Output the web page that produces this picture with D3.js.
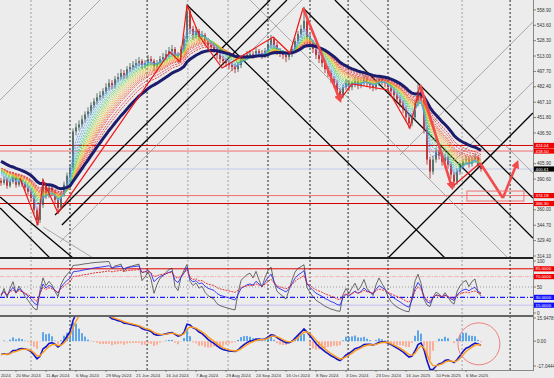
<!DOCTYPE html>
<html>
<head>
<meta charset="utf-8">
<script src="https://cdn.jsdelivr.net/npm/d3@7"></script>
<style>
body { margin: 0; background: #ececec; overflow: hidden; }
svg text { font-family: "Liberation Sans", Arial, sans-serif; }
</style>
</head>
<body>
<script>
var width = 554
var height = 378
var plotW = 533

// price bars (open of each bar = previous close)
var firstOpen = 389
var closes = [
  387,390,384,388,392,385,389,386,382,378,
  372,360,350,365,385,375,382,378,370,362,
  375,385,394,402,438,442,445,450,455,458,
  464,468,472,474,478,482,486,484,490,492,
  496,494,500,502,504,506,508,504,506,510,
  508,502,506,510,512,515,518,520,514,512,
  520,530,558,540,534,538,532,534,528,524,
  522,520,514,510,508,506,504,502,500,504,
  510,512,514,515,514,518,516,514,518,524,
  530,524,518,516,514,512,515,520,528,535,
  540,548,532,526,520,514,510,506,500,496,
  490,486,478,474,482,486,482,485,488,484,
  486,490,486,484,482,486,490,488,486,482,
  478,474,470,466,460,452,446,452,466,478,
  470,440,410,398,410,418,414,408,412,405,
  395,388,398,404,408,410,406,410,412,404,
  400.61]
var highs = [
  392,393,392,391,395,394,392,391,388,384,
  380,374,362,367,391,387,385,384,380,372,
  377,388,397,405,441,446,449,454,458,462,
  467,471,476,478,481,486,490,489,493,496,
  500,499,503,506,508,510,512,510,509,514,
  513,510,509,513,516,519,522,524,522,517,
  523,534,565,560,543,542,540,538,536,531,
  527,525,522,517,513,511,509,507,505,507,
  513,515,518,519,518,521,520,519,521,527,
  534,532,527,521,519,517,518,523,531,538,
  544,562,550,535,529,523,517,513,509,503,
  499,493,489,481,485,490,489,488,492,491,
  490,494,493,489,487,489,494,493,491,489,
  485,481,477,473,469,463,455,456,469,485,
  481,472,443,413,414,422,420,417,416,414,
  407,398,401,407,411,414,413,413,416,414,
  407]
var lows = [
  384,385,381,382,386,382,383,383,379,375,
  368,356,344,347,362,371,372,374,366,356,
  360,373,383,391,400,434,439,442,447,452,
  455,461,465,469,471,475,479,480,481,487,
  489,490,491,497,499,501,503,500,501,503,
  504,498,499,503,507,509,512,514,510,506,
  509,517,527,535,529,530,528,529,524,520,
  518,516,510,506,504,502,500,498,496,497,
  501,507,509,511,510,511,512,510,511,515,
  521,520,514,512,510,507,509,512,517,525,
  532,537,528,522,516,510,506,502,496,492,
  486,482,474,469,471,479,478,479,482,480,
  481,483,482,480,478,479,483,484,482,478,
  474,470,466,462,456,448,441,443,449,463,
  466,436,405,391,395,407,410,404,405,401,
  391,382,385,395,401,405,402,403,407,401,
  398]

// indicator settings
var maPeriods = [3,4,5,6,7,8,9,10,11,12,13,14,15,16,18,20]
var maColors = ["#6a8df0","#5aa0ee","#4cb6e0","#44c4b0","#3fca6a","#54d33c","#94d62e","#c8d028",
                "#e6c229","#f2a82a","#f48d2c","#f4722f","#f05a34","#ea4337","#e3303a","#dc2020"]
var maSeed = 403
var trendPeriod = 24, trendSeed = 410
var rsiPeriods = [4, 8, 14]
var rsiColors = ["#303030", "#2b2bf0", "#e82020"]
var rsiSeedGain = 1.5, rsiSeedLoss = 2.5
var macdFast = 5, macdSlow = 12, macdSig = 3, histScale = 2.5
var macdSeedFast = 400, macdSeedSlow = 408

// axes
var priceTicks = [314.10,329.40,344.70,360.00,375.30,390.60,405.90,421.20,436.50,451.80,
                  467.10,482.40,497.70,513.00,528.30,543.60,558.90]
var levelPrices = [424.04, 418.50, 374.18, 366.30]
var levelColors = ["#d40000", "#f07070", "#f07070", "#d40000"]
var lastPrice = 400.61
var rsiLevels = [85, 70, 50, 30, 15]
var rsiLevelLabels = ["85.0000", "70.0000", "50", "30.0000", "15.0000"]
var macdTicks = [15.9478, 0, -17.0444]
var macdTickLabels = ["15.9478", "0.00", "-17.0444"]
var dateBars = [-5,5,15,25,35,45,55,65,75,85,95,105,115,125,135,145,155]
var dateLabels = ["28 Feb 2024","20 Mar 2024","11 Apr 2024","6 May 2024","29 May 2024","21 Jun 2024",
                  "16 Jul 2024","7 Aug 2024","29 Aug 2024","24 Sep 2024","16 Oct 2024","8 Nov 2024",
                  "3 Dec 2024","23 Dec 2024","16 Jan 2025","10 Feb 2025","6 Mar 2025"]

// drawn objects
var sepBars = [10, 23, 48.7, 62.3, 75.7, 89, 103, 115.7, 129, 153.7, 169.7]
var sepDark = [0, 1, 1, 0, 0, 1, 1, 1, 1, 0, 1]
var zigBars = [6.3,12.3,14,19,56.3,59.7,62,66.3,73.7,90.7,96.3,100.7]
var zigPrices = [391.7,344.9,389.7,356.9,517.0,507.1,563.8,531.9,501.1,531.9,516.0,560.8]
var zig2Bars = [113,117,129,136.3,139.7]
var zig2Prices = [469.3,485.2,479.2,441.4,484.2]
var zig3Bars = [150.3,159.7]
var zig3Prices = [382.7,406.6]
var arrowFrom = [[100.7,560.8],[139.7,484.2],[159.7,406.6],[167.3,371.8]]
var arrowTo = [[113,469.3],[150.3,382.7],[167.3,371.8],[172,406.6]]
var lineStart = [[62,563.8],[100.7,560.8],[-0.3,372.8],[-0.3,361.8],[111.3,568.75],[18,354.9],[20.3,344.9],[129,312.1],
                 [-0.3,469.3],[19.7,328],[133,414.6],[151.3,409.6],[83,568.75],[119.7,568.75],[14,343]]
var lineEnd = [[148,312.1],[177.3,332.0],[24,312.1],[16.3,312.1],[177.3,371.8],[89.7,568.75],[95.3,568.75],[177.3,456.3],
               [33,568.75],[100.3,568.75],[177.3,546.9],[177.3,487.2],[169,312.1],[177.3,396.6],[30.7,312.1]]
var lineDark = [1,1,1,1,1,1,1,1,0,0,0,0,0,0,0]
var boxBars = [155.3, 174.3]
var boxPrices = [378.7, 368.8]
var circleBar = 159.3, circleValue = -1.8

// ---- computations
function ema(vals, n, seed) {
  var a = 2 / (n + 1), e = seed
  return vals.map(function(v) { e = e + a * (v - e); return e })
}
function rsi(vals, n) {
  var g = rsiSeedGain, l = rsiSeedLoss
  return vals.map(function(v, i) {
    var d = v - (i ? vals[i - 1] : firstOpen)
    g = (g * (n - 1) + Math.max(d, 0)) / n
    l = (l * (n - 1) + Math.max(-d, 0)) / n
    return 100 - 100 / (1 + g / l)
  })
}
var fastE = ema(closes, macdFast, macdSeedFast)
var slowE = ema(closes, macdSlow, macdSeedSlow)
var macd = fastE.map(function(v, i) { return v - slowE[i] })
var signal = ema(macd, macdSig, macd[0])
var hist = macd.map(function(v, i) { return histScale * (v - signal[i]) })

// ---- scales
var x = d3.scaleLinear().domain([0, 177.33]).range([1, plotW])
var yP = d3.scaleLinear().domain([312.1, 568.75]).range([258, 0])
var yR = d3.scaleLinear().domain([0, 100]).range([313, 261])
var yM = d3.scaleLinear().domain([-17.0444, 15.9478]).range([366, 318])

var svg = d3.select("body").append("svg")
    .attr("width", width)
    .attr("height", height)

svg.append("rect").attr("width", width).attr("height", height).attr("fill", "#ececec")

var defs = svg.append("defs")
function clip(id, y0, h) {
  defs.append("clipPath").attr("id", id).append("rect")
      .attr("x", 0).attr("y", y0).attr("width", plotW).attr("height", h)
}
clip("cMain", 0, 257)
clip("cRsi", 259, 56)
clip("cMacd", 317, 53)
defs.append("marker").attr("id", "ah").attr("viewBox", "0 0 10 10")
    .attr("refX", 6).attr("refY", 5).attr("markerWidth", 3.2).attr("markerHeight", 3.2)
    .attr("orient", "auto")
  .append("path").attr("d", "M0,0L10,5L0,10z").attr("fill", "#f24a4a")

// vertical separators across all panels
svg.selectAll(".sep").data(sepBars).enter().append("line")
    .attr("x1", function(d) { return x(d) }).attr("x2", function(d) { return x(d) })
    .attr("y1", 0).attr("y2", 370)
    .attr("stroke", function(d, i) { return sepDark[i] ? "#111" : "#999" })
    .attr("stroke-width", 0.9)
    .attr("stroke-dasharray", "2,2")

var main = svg.append("g").attr("clip-path", "url(#cMain)")

// horizontal levels
main.selectAll(".lvl").data(levelPrices).enter().append("line")
    .attr("x1", 0).attr("x2", plotW)
    .attr("y1", function(d) { return yP(d) }).attr("y2", function(d) { return yP(d) })
    .attr("stroke", function(d, i) { return levelColors[i] }).attr("stroke-width", 1)
main.append("line").attr("x1", 0).attr("x2", plotW)
    .attr("y1", yP(lastPrice)).attr("y2", yP(lastPrice))
    .attr("stroke", "#c4cbef").attr("stroke-width", 1)

// trend lines
main.selectAll(".gl").data(lineStart).enter().append("line")
    .attr("x1", function(d) { return x(d[0]) }).attr("y1", function(d) { return yP(d[1]) })
    .attr("x2", function(d, i) { return x(lineEnd[i][0]) }).attr("y2", function(d, i) { return yP(lineEnd[i][1]) })
    .attr("stroke", function(d, i) { return lineDark[i] ? "#000" : "#8c8c8c" })
    .attr("stroke-width", function(d, i) { return lineDark[i] ? 1.3 : 0.7 })

// candles
var bars = main.selectAll(".bar").data(closes).enter().append("g")
function isUp(i) { return closes[i] >= (i ? closes[i - 1] : firstOpen) }
function barColor(d, i) { return isUp(i) ? "#3a5a52" : "#b01818" }
bars.append("line")
    .attr("x1", function(d, i) { return x(i) }).attr("x2", function(d, i) { return x(i) })
    .attr("y1", function(d, i) { return yP(highs[i]) }).attr("y2", function(d, i) { return yP(lows[i]) })
    .attr("stroke", barColor).attr("stroke-width", 0.8)
bars.append("rect")
    .attr("x", function(d, i) { return x(i) - 0.7 }).attr("width", 1.4)
    .attr("y", function(d, i) { var o = i ? closes[i - 1] : firstOpen; return yP(Math.max(o, d)) })
    .attr("height", function(d, i) { var o = i ? closes[i - 1] : firstOpen; return Math.max(0.8, Math.abs(yP(o) - yP(d))) })
    .attr("fill", barColor)

// rainbow of moving averages
var priceLine = d3.line().x(function(d, i) { return x(i) }).y(function(d) { return yP(d) })
maPeriods.slice().reverse().forEach(function(p, k) {
  var idx = maPeriods.length - 1 - k
  main.append("path").datum(ema(closes, p, maSeed))
      .attr("d", priceLine).attr("fill", "none")
      .attr("stroke", maColors[idx]).attr("stroke-width", 0.8)
      .attr("stroke-dasharray", "2,1")
})
main.append("path").datum(ema(closes, trendPeriod, trendSeed))
    .attr("d", priceLine).attr("fill", "none")
    .attr("stroke", "#1c1c6c").attr("stroke-width", 3)

// zigzag
var zl = d3.line().x(function(d) { return x(d[0]) }).y(function(d) { return yP(d[1]) })
;[[zigBars, zigPrices], [zig2Bars, zig2Prices], [zig3Bars, zig3Prices]].forEach(function(z) {
  main.append("path").datum(z[0].map(function(b, i) { return [b, z[1][i]] }))
      .attr("d", zl).attr("fill", "none").attr("stroke", "#f01818").attr("stroke-width", 1.2)
})
main.selectAll(".arr").data(arrowFrom).enter().append("line")
    .attr("x1", function(d) { return x(d[0]) }).attr("y1", function(d) { return yP(d[1]) })
    .attr("x2", function(d, i) { return x(arrowTo[i][0]) }).attr("y2", function(d, i) { return yP(arrowTo[i][1]) })
    .attr("stroke", "#f24a4a").attr("stroke-width", 2.6)
    .attr("marker-end", function(d, i) { return i == 2 ? null : "url(#ah)" })
main.append("rect")
    .attr("x", x(boxBars[0])).attr("width", x(boxBars[1]) - x(boxBars[0]))
    .attr("y", yP(boxPrices[0])).attr("height", yP(boxPrices[1]) - yP(boxPrices[0]))
    .attr("fill", "none").attr("stroke", "#f07070").attr("stroke-width", 1)

// ---- RSI panel
var rsiG = svg.append("g").attr("clip-path", "url(#cRsi)")
var rsiStroke = ["#e00000", "#f4b4b4", "#8a8a8a", "#1a1aff", "#c6bff0"]
var rsiDash = [null, "4,1,1,1", "1,2", "5,2,1,2", null]
var rsiWidth = [1, 1, 0.8, 1.4, 1]
rsiG.selectAll(".rl").data(rsiLevels).enter().append("line")
    .attr("x1", 0).attr("x2", plotW)
    .attr("y1", function(d) { return yR(d) }).attr("y2", function(d) { return yR(d) })
    .attr("stroke", function(d, i) { return rsiStroke[i] })
    .attr("stroke-dasharray", function(d, i) { return rsiDash[i] })
    .attr("stroke-width", function(d, i) { return rsiWidth[i] })
var rsiLine = d3.line().x(function(d, i) { return x(i) }).y(function(d) { return yR(d) })
rsiPeriods.forEach(function(p, k) {
  rsiG.append("path").datum(rsi(closes, p))
      .attr("d", rsiLine).attr("fill", "none")
      .attr("stroke", rsiColors[k]).attr("stroke-width", k == 0 ? 0.7 : 0.9)
      .attr("stroke-dasharray", k == 2 ? "2,1" : null)
})

// ---- MACD panel
var macdG = svg.append("g").attr("clip-path", "url(#cMacd)")
macdG.selectAll(".hb").data(hist).enter().append("rect")
    .attr("x", function(d, i) { return x(i) - 0.8 }).attr("width", 1.6)
    .attr("y", function(d) { return Math.min(yM(0), yM(d)) })
    .attr("height", function(d) { return Math.abs(yM(d) - yM(0)) })
    .attr("fill", function(d) { return d >= 0 ? "#3f95ea" : "#ffa084" })
var mLine = d3.line().x(function(d, i) { return x(i) }).y(function(d) { return yM(d) })
macdG.append("path").datum(macd).attr("d", mLine).attr("fill", "none")
    .attr("stroke", "#1414c8").attr("stroke-width", 1.6)
macdG.append("path").datum(signal).attr("d", mLine).attr("fill", "none")
    .attr("stroke", "#ff9a1a").attr("stroke-width", 1.4)
macdG.append("ellipse")
    .attr("cx", x(circleBar)).attr("cy", yM(circleValue))
    .attr("rx", x(7) - x(0)).attr("ry", 21)
    .attr("fill", "none").attr("stroke", "#f08080").attr("stroke-width", 1)

// ---- panel frames
svg.append("line").attr("x1", 0).attr("x2", plotW).attr("y1", 258).attr("y2", 258)
    .attr("stroke", "#222").attr("stroke-width", 2)
svg.append("line").attr("x1", 0).attr("x2", plotW).attr("y1", 316).attr("y2", 316)
    .attr("stroke", "#666").attr("stroke-width", 2)
svg.append("line").attr("x1", 0).attr("x2", plotW).attr("y1", 370.5).attr("y2", 370.5)
    .attr("stroke", "#888").attr("stroke-width", 1)
svg.append("line").attr("x1", plotW + 0.5).attr("x2", plotW + 0.5).attr("y1", 0).attr("y2", 371)
    .attr("stroke", "#888").attr("stroke-width", 1)

// ---- right axis
function tick(y, label) {
  svg.append("line").attr("x1", plotW).attr("x2", plotW + 3).attr("y1", y).attr("y2", y)
      .attr("stroke", "#666").attr("stroke-width", 0.8)
  svg.append("text").attr("x", plotW + 4).attr("y", y + 1.6).attr("font-size", 4.6)
      .attr("fill", "#333").text(label)
}
function tag(y, label, fill) {
  svg.append("rect").attr("x", plotW + 1).attr("y", y - 2.6).attr("width", 20).attr("height", 5.2)
      .attr("fill", fill)
  svg.append("text").attr("x", plotW + 2.5).attr("y", y + 1.5).attr("font-size", 4.3)
      .attr("fill", "#fff").text(label)
}
// tick labels that sit under a price tag are hidden, as on the terminal
var tagYs = levelPrices.concat([lastPrice]).map(function(p) { return yP(p) })
priceTicks.forEach(function(p) {
  var y = yP(p)
  if (tagYs.some(function(t) { return Math.abs(t - y) < 4.5 })) return
  tick(y, p.toFixed(2))
})
levelPrices.forEach(function(p) { tag(yP(p), p.toFixed(2), "#f00000") })
tag(yP(lastPrice), lastPrice.toFixed(2), "#000")

tick(yR(100), "100")
tick(yR(0), "0")
rsiLevels.forEach(function(v, i) {
  if (v == 50) tick(yR(v), rsiLevelLabels[i])
  else tag(yR(v), rsiLevelLabels[i], v > 50 ? "#f00000" : "#1010ff")
})
macdTicks.forEach(function(v, i) { tick(yM(v), macdTickLabels[i]) })

// ---- date axis
dateBars.forEach(function(b, i) {
  svg.append("line").attr("x1", x(b)).attr("x2", x(b)).attr("y1", 370).attr("y2", 372)
      .attr("stroke", "#666").attr("stroke-width", 0.8)
  svg.append("text").attr("x", x(b)).attr("y", 376.5).attr("font-size", 4.4)
      .attr("fill", "#333").text(dateLabels[i])
})
</script>
</body>
</html>
